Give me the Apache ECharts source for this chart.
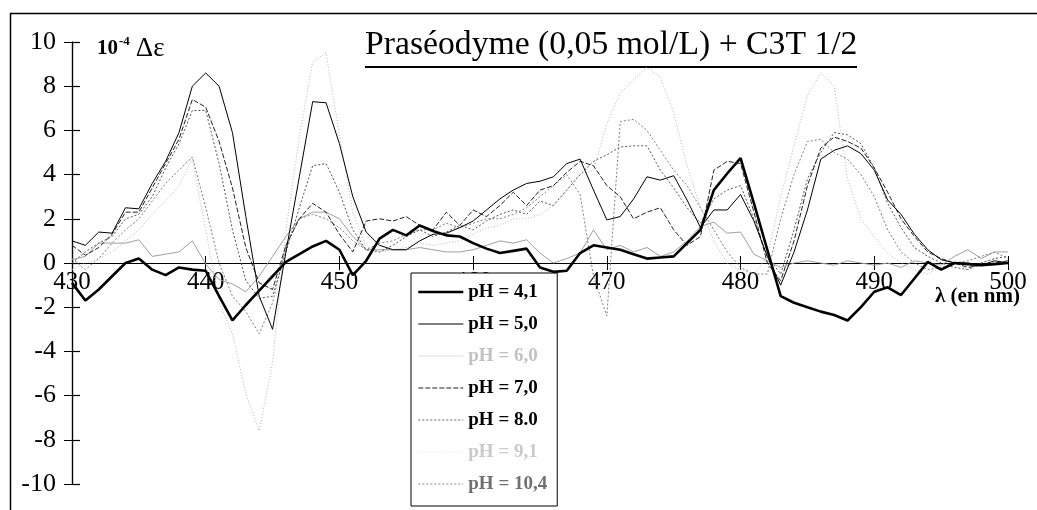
<!DOCTYPE html>
<html><head><meta charset="utf-8">
<script src="https://cdn.jsdelivr.net/npm/echarts@6/dist/echarts.min.js"></script>
<style>html,body{margin:0;padding:0;background:#fff}#c{width:1037px;height:510px}</style>
</head><body><div id="c"></div>
<script>
const wavelengths = [430,431,432,433,434,435,436,437,438,439,440,441,442,443,444,445,446,447,448,449,450,451,452,453,454,455,456,457,458,459,460,461,462,463,464,465,466,467,468,469,470,471,472,473,474,475,476,477,478,479,480,481,482,483,484,485,486,487,488,489,490,491,492,493,494,495,496,497,498,499,500];
const seriesNames = ['pH = 4,1','pH = 5,0','pH = 6,0','pH = 7,0','pH = 8.0','pH = 9,1','pH = 10,4'];

const ph41 = [-0.9,-1.7,-1.2,-0.6,0,0.2,-0.3,-0.55,-0.2,-0.3,-0.35,-1.5,-2.6,-1.9,-1.25,-0.6,0.05,0.4,0.75,1.0,0.6,-0.55,0.1,1.1,1.5,1.25,1.7,1.45,1.25,1.2,0.9,0.65,0.45,0.55,0.65,-0.2,-0.4,-0.35,0.45,0.8,0.7,0.6,0.4,0.2,0.25,0.3,0.9,1.5,3.3,4.05,4.75,2.7,0.6,-1.5,-1.8,-2.0,-2.2,-2.35,-2.6,-2.0,-1.3,-1.1,-1.45,-0.7,0.05,-0.3,0,-0.05,-0.1,-0.05,0];
const ph50 = [1.0,0.8,1.4,1.35,2.5,2.45,3.6,4.6,5.9,8.0,8.6,8.0,5.9,2.1,-1.5,-3.0,0.5,3.9,7.3,7.25,5.4,3.0,1.4,0.8,0.6,0.6,1.0,1.3,1.35,1.6,1.9,2.4,2.9,3.3,3.6,3.7,3.9,4.5,4.7,3.3,1.95,2.1,2.9,3.9,3.75,3.95,2.85,1.6,2.4,2.4,3.1,1.9,0.3,-1.0,0.5,2.4,4.7,5.1,5.3,4.95,4.2,2.85,2.2,1.3,0.6,0.15,0,0,-0.1,0.1,0];
const ph60 = [0.15,0.3,0.9,0.9,0.9,1.05,0.3,0.4,0.5,1.0,-0.05,-0.75,-0.95,-1.3,-0.6,0.3,1.2,2.0,2.3,2.3,2.0,1.2,0.6,0.6,0.6,0.6,0.7,0.6,0.5,0.5,0.6,0.8,1.0,0.9,1.05,0.45,0.0,0.2,0.45,1.5,0.6,0.8,0.5,0.7,0.3,0.5,1.0,1.65,1.85,1.35,1.4,0.4,0.1,-0.2,0.0,0.1,0.0,-0.1,0.1,0.0,-0.1,0.0,-0.2,0.1,0.0,-0.1,0.3,0.6,0.2,0.5,0.5];
const ph70 = [0.8,0.35,0.7,1.3,2.3,2.3,3.4,4.5,5.6,7.4,7.05,5.5,3.4,0.7,-0.9,-1.2,0.8,2.0,2.7,2.3,1.3,0.5,1.9,2.0,1.9,2.1,1.7,1.5,2.3,1.7,2.4,2.1,2.6,3.2,2.6,3.3,3.5,4.1,4.6,4.4,3.5,3.0,2.0,2.3,2.5,1.5,0.8,1.2,4.2,4.6,4.5,2.3,0.0,-0.8,1.0,3.5,5.2,5.7,5.5,5.2,4.3,3.2,2.0,1.2,0.5,0.2,0.0,-0.2,-0.1,0.0,0.1];
const ph80 = [0.0,0.5,0.9,1.2,2.0,2.2,3.0,4.3,5.4,6.9,6.9,4.5,1.5,-0.8,-1.6,-1.5,0.5,2.5,4.4,4.5,3.2,1.5,0.6,0.5,0.8,1.2,1.5,1.2,1.4,1.7,1.5,1.9,2.2,2.4,2.2,2.8,2.6,3.3,4.0,4.6,4.9,5.25,5.3,5.3,4.2,3.4,2.5,1.8,2.9,3.3,3.5,2.0,0.3,-0.5,1.5,3.8,5.0,5.9,5.8,5.4,4.3,2.7,1.6,0.7,0.3,0.0,-0.2,-0.3,0.0,0.2,0.3];
const ph91 = [-0.3,0.0,0.2,0.5,1.0,1.5,2.2,2.8,3.5,4.7,1.5,-1.8,-3.2,-5.9,-7.6,-4.5,1.5,5.7,9.1,9.5,5.8,2.3,0.75,0.5,0.6,0.7,0.9,0.8,0.9,1.0,1.3,1.6,1.7,2.0,2.0,2.2,2.6,3.3,4.0,4.2,6.3,7.7,8.3,8.85,8.4,6.8,4.4,2.5,1.0,0.0,-0.3,-0.5,0.3,3.0,5.3,7.6,8.6,8.0,3.8,2.0,1.2,0.45,0.0,-0.3,-0.5,-0.2,0.0,-0.3,0.0,0.2,0.0];
const ph104 = [0.2,-0.3,0.2,0.9,1.5,2.0,2.8,3.6,4.2,4.8,2.5,0.0,-1.5,-2.2,-3.2,-1.8,0.8,2.0,2.2,2.0,1.6,1.0,0.6,0.9,1.0,1.3,1.5,1.5,1.8,1.6,1.8,2.0,2.0,2.2,2.5,3.0,3.5,4.0,3.1,-0.6,-2.4,6.4,6.5,6.0,5.1,4.2,3.5,2.5,1.5,0.5,-0.2,-0.5,-0.5,2.0,4.0,5.5,5.6,5.0,4.7,4.0,3.0,1.5,0.5,0.0,-0.3,-0.2,0.0,0.1,0.3,0.5,0.2];

const values = [ph41, ph50, ph60, ph70, ph80, ph91, ph104];
const styles = [
  {color:'#000000', width:2.6, type:'solid', z:10, text:'#000'},
  {color:'#000000', width:1, type:'solid', z:9, text:'#000'},
  {color:'#a0a0a0', width:1, type:'solid', z:3, text:'#c2c2c2'},
  {color:'#222222', width:1, type:[5,2], z:8, text:'#000'},
  {color:'#555555', width:1, type:[2,2], z:7, text:'#000'},
  {color:'#b8b8b8', width:1, type:[1,2], z:2, text:'#cacaca'},
  {color:'#808080', width:1, type:[2,2], z:4, text:'#707070'}
];
const legendLine = ['#000','#000','#dcdcdc','#222','#666','#e2e2e2','#888'];
const series = [];
[5,2,6,4,3,1,0].forEach(i => series.push({
  name: seriesNames[i], type:'line', symbol:'none', showSymbol:false, z: styles[i].z,
  xAxisIndex:0, yAxisIndex:0,
  lineStyle:{color:styles[i].color, width:styles[i].width, type:styles[i].type},
  itemStyle:{color:styles[i].color},
  data: wavelengths.map((w,k)=>[w, values[i][k]])
}));

const font = '"Liberation Serif","Times New Roman",serif';
const GRID_TOP = 42, GRID_BOTTOM = 26, H = 510;
const zeroOffset = -((H - GRID_TOP - GRID_BOTTOM) / 2);  // x axis sits at y = 0 (range -10..10)
const chart = echarts.init(document.getElementById('c'));
chart.setOption({
  animation:false,
  backgroundColor:'#fff',
  grid:{left:72, right:29, top:GRID_TOP, bottom:GRID_BOTTOM},
  xAxis:[
    {type:'value', min:430, max:500, interval:10, splitLine:{show:false}, position:'bottom', offset:zeroOffset,
      axisLine:{show:true, onZero:false, lineStyle:{color:'#000', width:1.2}},
      axisTick:{show:true, inside:false, length:7, lineStyle:{color:'#000'}},
      axisLabel:{show:true, color:'#000', fontFamily:font, fontSize:25, margin:7}},
    {type:'value', min:430, max:500, interval:10, splitLine:{show:false}, position:'bottom', offset:zeroOffset,
      axisLine:{show:false, onZero:false},
      axisTick:{show:true, inside:true, length:7, lineStyle:{color:'#000'}},
      axisLabel:{show:false}}
  ],
  yAxis:[
    {type:'value', min:-10, max:10, interval:2, splitLine:{show:false}, position:'left',
      axisLine:{show:true, onZero:false, lineStyle:{color:'#000', width:1.2}},
      axisTick:{show:true, inside:false, length:8, lineStyle:{color:'#000'}},
      axisLabel:{show:true, color:'#000', fontFamily:font, fontSize:26, margin:16}},
    {type:'value', min:-10, max:10, interval:2, splitLine:{show:false}, position:'left', offset:0,
      axisLine:{show:true, onZero:false, lineStyle:{color:'#000', width:1.2}},
      axisTick:{show:true, inside:true, length:8, lineStyle:{color:'#000', width:1.2}},
      axisLabel:{show:false}}
  ],
  legend:{
    show:true, orient:'vertical', left:411, top:273, itemWidth:45, itemHeight:14, itemGap:12,
    padding:[9,10,12,6], borderColor:'#000', borderWidth:1, backgroundColor:'#fff',
    itemStyle:{opacity:0},
    data: seriesNames.map((n,i)=>({name:n, textStyle:{color:styles[i].text},
      lineStyle:{color:legendLine[i], width:styles[i].width, type:styles[i].type}})),
    textStyle:{fontFamily:font, fontSize:19, lineHeight:20, fontWeight:'bold', color:'#000'},
    selectedMode:false
  },
  graphic:[
    {type:'rect', left:8, top:11, shape:{width:1040, height:520}, style:{fill:null, stroke:'#000', lineWidth:1.5}, silent:true, z:-1},
    {type:'text', left:365, top:28, style:{text:'Praséodyme (0,05 mol/L) + C3T 1/2', font:'33.7px '+font, fill:'#000'}},
    {type:'line', shape:{x1:365, y1:67, x2:857, y2:67}, style:{stroke:'#000', lineWidth:2}},
    {type:'text', left:97, top:35, style:{rich:{
        a:{fontFamily:font, fontSize:21, fontWeight:'bold', fill:'#000'},
        s:{fontFamily:font, fontSize:13, fontWeight:'bold', fill:'#000', verticalAlign:'top', padding:[0,0,12,1]},
        g:{fontFamily:font, fontSize:27, fill:'#000', padding:[0,0,0,6]}},
      text:'{a|10}{s|-4}{g|Δε}', fill:'#000'}},
    {type:'text', left:935, top:286, style:{text:'λ (en nm)', font:'bold 21px '+font, fill:'#000'}}
  ],
  series: series
});
</script></body></html>
